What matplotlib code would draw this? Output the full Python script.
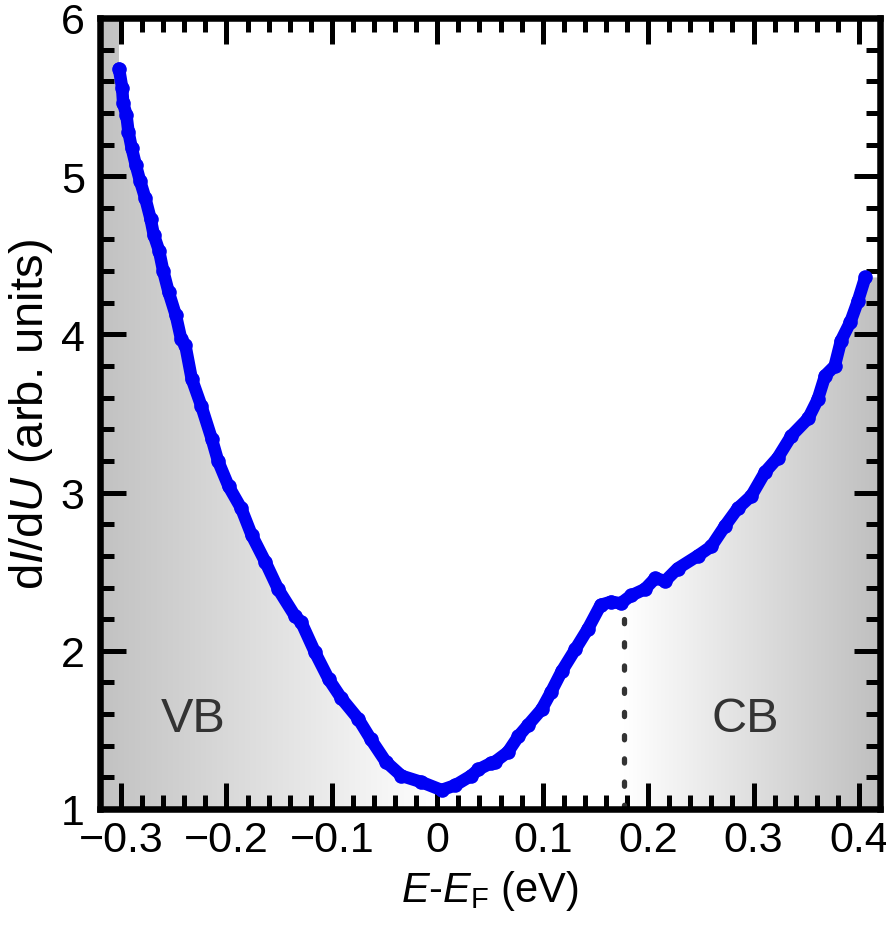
import numpy as np
import matplotlib
matplotlib.use("Agg")
import matplotlib.pyplot as plt
from matplotlib.patches import Polygon
from matplotlib.ticker import FixedLocator, FixedFormatter, MultipleLocator

plt.rcParams['font.family'] = ['Liberation Sans', 'DejaVu Sans']
plt.rcParams['mathtext.fontset'] = 'custom'
plt.rcParams['mathtext.rm'] = 'Liberation Sans'
plt.rcParams['mathtext.it'] = 'Liberation Sans:italic'

# ---- data ----
energy = [-0.302, -0.299, -0.298, -0.295, -0.293, -0.290, -0.286, -0.282, -0.277,
          -0.272, -0.269, -0.264, -0.260, -0.255, -0.248, -0.243, -0.239, -0.233,
          -0.224, -0.214, -0.208, -0.198, -0.186, -0.176, -0.163, -0.151, -0.135,
          -0.129, -0.116, -0.103, -0.091, -0.075, -0.063, -0.049, -0.034, -0.015,
          0.004, 0.017, 0.032, 0.039, 0.051, 0.055, 0.067, 0.077, 0.086, 0.099,
          0.108, 0.118, 0.131, 0.143, 0.155, 0.165, 0.174, 0.184, 0.197, 0.207,
          0.216, 0.228, 0.247, 0.260, 0.273, 0.285, 0.298, 0.311, 0.323, 0.336,
          0.352, 0.361, 0.368, 0.377, 0.383, 0.392, 0.399, 0.406]
didu = [5.68, 5.56, 5.46, 5.39, 5.28, 5.18, 5.07, 4.97, 4.86,
        4.73, 4.63, 4.53, 4.40, 4.27, 4.12, 3.97, 3.93, 3.72,
        3.55, 3.34, 3.20, 3.04, 2.90, 2.73, 2.56, 2.39, 2.22,
        2.18, 1.99, 1.82, 1.70, 1.57, 1.44, 1.30, 1.21, 1.17,
        1.12, 1.15, 1.21, 1.25, 1.29, 1.30, 1.36, 1.46, 1.53, 1.63,
        1.74, 1.87, 2.01, 2.14, 2.29, 2.31, 2.30, 2.35, 2.39, 2.46,
        2.44, 2.52, 2.60, 2.66, 2.79, 2.90, 2.98, 3.13, 3.22, 3.36,
        3.47, 3.59, 3.74, 3.80, 3.96, 4.08, 4.21, 4.36]

xticks = [-0.3, -0.2, -0.1, 0.0, 0.1, 0.2, 0.3, 0.4]
xticklabels = ['\u22120.3', '\u22120.2', '\u22120.1', '0', '0.1', '0.2', '0.3', '0.4']
yticks = [1, 2, 3, 4, 5, 6]
vb_edge = 0.0      # VB shading ends
cb_edge = 0.177    # CB onset (dotted line)
region_labels = ['VB', 'CB']
region_label_pos = [(-0.232, 1.57), (0.292, 1.57)]

xlim = (-0.32, 0.42)
ylim = (1, 6)

E = np.array(energy)
Y = np.array(didu)

fig = plt.figure(figsize=(8.87, 9.28), dpi=100)
ax = fig.add_axes([100/887, 1-810/928, 780/887, 791/928])
ax.set_xlim(*xlim)
ax.set_ylim(*ylim)

# ---- gradient shading under curve ----
def gradient_region(x0, x1, gray_at_x0, gray_at_x1, verts):
    n = 256
    g = np.linspace(gray_at_x0, gray_at_x1, n)
    img = np.dstack([g, g, g]).repeat(2, axis=0)
    im = ax.imshow(img, extent=[x0, x1, ylim[0], ylim[1]], aspect='auto',
                   origin='lower', zorder=0, interpolation='bilinear')
    poly = Polygon(verts, closed=True, facecolor='none', edgecolor='none',
                   transform=ax.transData)
    ax.add_patch(poly)
    im.set_clip_path(poly)

# VB region
m = E <= vb_edge
y_vb = np.interp(vb_edge, E, Y)
verts_vb = [(xlim[0], ylim[0]), (xlim[0], ylim[1]), (E[0], ylim[1])] + \
           list(zip(E[m], Y[m])) + [(vb_edge, y_vb), (vb_edge, ylim[0])]
gradient_region(xlim[0], vb_edge, 0.76, 1.0, verts_vb)

# CB region
m = E >= cb_edge
y_cb = np.interp(cb_edge, E, Y)
verts_cb = [(cb_edge, ylim[0]), (cb_edge, y_cb)] + list(zip(E[m], Y[m])) + \
           [(xlim[1], Y[-1]), (xlim[1], ylim[0])]
gradient_region(cb_edge, xlim[1], 1.0, 0.75, verts_cb)
ax.set_xlim(*xlim)
ax.set_ylim(*ylim)

# dotted CB marker
ax.plot([cb_edge, cb_edge], [ylim[0], y_cb - 0.08], color='#333333', lw=3.8,
        linestyle=(0, (0.8, 3.6)), dash_capstyle='round', zorder=2)

# data curve
ax.plot(E, Y, color='#0000f5', lw=9, solid_capstyle='round',
        solid_joinstyle='round', zorder=3)
ax.plot(E, Y, 'o', color='#0000f5', ms=10.5, mec='none', zorder=3)

for lab, (x, y) in zip(region_labels, region_label_pos):
    ax.text(x, y, lab, fontsize=35, color='#333333', ha='center', va='center')

# ---- axes styling ----
for s in ax.spines.values():
    s.set_linewidth(4.7)
    s.set_zorder(5)
ax.xaxis.set_major_locator(FixedLocator(xticks))
ax.xaxis.set_major_formatter(FixedFormatter(xticklabels))
ax.xaxis.set_minor_locator(MultipleLocator(0.02))
ax.yaxis.set_major_locator(FixedLocator(yticks))
ax.yaxis.set_minor_locator(MultipleLocator(0.2))
ax.tick_params(which='both', direction='in', top=True, right=True, width=3.6,
               labelsize=31, color='black')
ax.tick_params(which='major', length=19)
ax.tick_params(which='minor', length=10)
ax.tick_params(axis='x', which='major', pad=8)
ax.tick_params(axis='y', which='major', pad=11)

ax.set_xlabel(r'$\mathit{E}$-$\mathit{E}_{\mathrm{F}}$ (eV)', fontsize=30)
ax.xaxis.set_label_coords(0.5, -0.075)
ax.set_ylabel(r'd$\mathit{I}$/d$\mathit{U}$ (arb. units)', fontsize=34)
ax.yaxis.set_label_coords(-0.058, 0.5)

fig.savefig('out.png', dpi=100)
